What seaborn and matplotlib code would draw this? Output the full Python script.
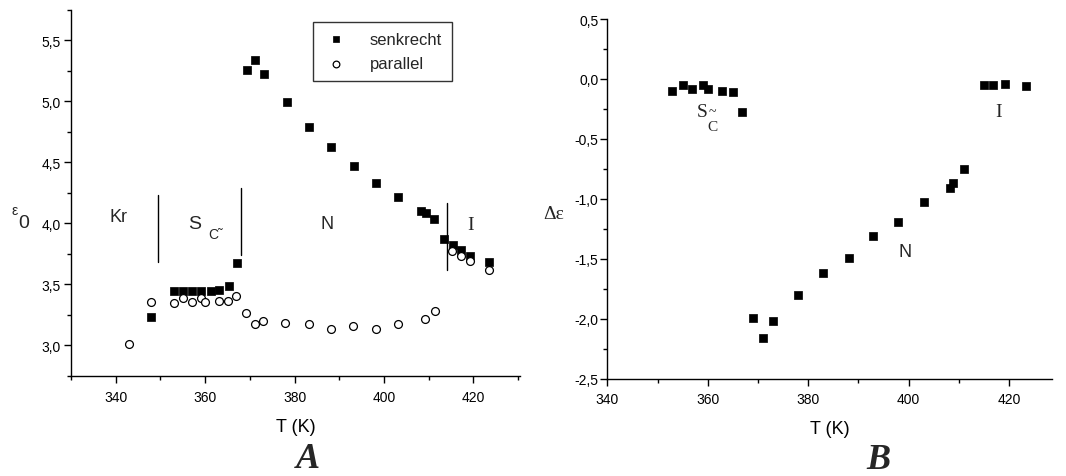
import matplotlib
matplotlib.use("Agg")
import matplotlib.pyplot as plt
import seaborn as sns
import pandas as pd
import numpy as np
from matplotlib.ticker import MultipleLocator, FuncFormatter

# ---- data (left panel A) ----
T_senk = [347.9, 353.0, 355.1, 357.1, 359.0, 361.2, 363.0, 365.3, 367.1,
          369.3, 371.2, 373.2, 378.3, 383.3, 388.1, 393.3, 398.2, 403.2,
          408.2, 409.3, 411.2, 413.3, 415.4, 417.2, 419.3, 423.4]
eps_senk = [3.23, 3.446, 3.443, 3.443, 3.443, 3.443, 3.457, 3.484, 3.672,
            5.254, 5.342, 5.227, 4.995, 4.79, 4.626, 4.467, 4.331, 4.213,
            4.10, 4.088, 4.033, 3.875, 3.82, 3.779, 3.733, 3.683]
T_par = [342.9, 347.9, 353.0, 355.1, 357.0, 359.1, 360.0, 363.0, 365.2,
         366.9, 369.2, 371.1, 373.0, 377.9, 383.3, 388.2, 393.1, 398.1,
         403.2, 409.1, 411.3, 415.2, 417.2, 419.3, 423.4]
eps_par = [3.011, 3.358, 3.35, 3.388, 3.356, 3.388, 3.358, 3.364, 3.366,
           3.407, 3.262, 3.178, 3.197, 3.184, 3.172, 3.134, 3.159, 3.137,
           3.178, 3.213, 3.282, 3.774, 3.733, 3.692, 3.618]

# ---- data (right panel B) ----
T_delta = [352.9, 355.1, 356.9, 359.1, 360.1, 362.9, 365.0, 366.8,
           369.1, 371.1, 372.9, 377.9, 383.0, 388.1, 392.9, 397.9,
           403.1, 408.3, 408.9, 411.1, 415.1, 416.9, 419.2, 423.4]
d_eps = [-0.102, -0.052, -0.083, -0.052, -0.083, -0.102, -0.111, -0.274,
         -1.99, -2.159, -2.02, -1.80, -1.618, -1.49, -1.31, -1.19,
         -1.028, -0.912, -0.87, -0.754, -0.052, -0.052, -0.042, -0.061]

series_names = ["senkrecht", "parallel"]
phase_T = [349.5, 368.0, 414.0]
phase_lo = [3.68, 3.74, 3.615]
phase_hi = [4.23, 4.29, 4.17]

sns.set_theme(style="ticks")
plt.rcParams['font.family'] = ['Liberation Sans', 'DejaVu Sans']
plt.rcParams['axes.edgecolor'] = 'black'
plt.rcParams['axes.linewidth'] = 1.0

fig = plt.figure(figsize=(10.66, 4.77), dpi=100)
axA = fig.add_axes([71/1066, 1-377/477, (520-71)/1066, (377-10.7)/477])
axB = fig.add_axes([607.3/1066, 1-379.7/477, (1051.7-607.3)/1066, (379.7-20)/477])

dfA = pd.concat([
    pd.DataFrame({"T": T_senk, "eps": eps_senk, "serie": series_names[0]}),
    pd.DataFrame({"T": T_par, "eps": eps_par, "serie": series_names[1]}),
])
sns.scatterplot(data=dfA[dfA.serie == "senkrecht"], x="T", y="eps", ax=axA,
                marker="s", s=28, color="black", edgecolor="black",
                linewidth=0.5, label="senkrecht", zorder=3)
sns.scatterplot(data=dfA[dfA.serie == "parallel"], x="T", y="eps", ax=axA,
                marker="o", s=32, facecolor="white", edgecolor="black",
                linewidth=0.9, label="parallel", zorder=4)

dfB = pd.DataFrame({"T": T_delta, "d": d_eps})
sns.scatterplot(data=dfB, x="T", y="d", ax=axB, marker="s", s=28,
                color="black", edgecolor="black", linewidth=0.5, zorder=3)

comma = FuncFormatter(lambda v, p: f"{v:.1f}".replace(".", ","))

for ax in (axA, axB):
    sns.despine(ax=ax)
    ax.xaxis.set_major_locator(MultipleLocator(20))
    ax.xaxis.set_minor_locator(MultipleLocator(10))
    ax.yaxis.set_major_locator(MultipleLocator(0.5))
    ax.yaxis.set_minor_locator(MultipleLocator(0.25))
    ax.yaxis.set_major_formatter(comma)
    ax.tick_params(which="major", direction="out", length=4.8, width=1,
                   labelsize=10, color="black", labelcolor="black")
    ax.tick_params(which="minor", direction="out", length=3, width=1,
                   color="black")
    ax.set_xlabel("T (K)", fontsize=13, color="black")
    ax.set_ylabel("")
    ax.grid(False)

axA.set_xlim(330, 430.4)
axA.set_ylim(2.75, 5.75)
axB.set_xlim(340, 428.5)
axB.set_ylim(-2.5, 0.5)
axA.tick_params(axis="y", pad=2.4)
axB.tick_params(axis="y", pad=1.5)
axA.tick_params(axis="x", pad=5.2)
axB.tick_params(axis="x", pad=5.0)
axA.xaxis.labelpad = 10
axB.xaxis.labelpad = 10

# phase boundaries
for t, lo, hi in zip(phase_T, phase_lo, phase_hi):
    axA.plot([t, t], [lo, hi], color="black", lw=1)

# phase labels
axA.text(340.6, 4.055, "Kr", fontsize=13, ha="center", va="center")
axA.text(357.7, 4.0, "S", fontsize=14, ha="center", va="center")
axA.text(361.8, 3.915, "C\u0303", fontsize=10, ha="center", va="center")
axA.text(387.2, 4.0, "N", fontsize=13, ha="center", va="center")
axA.text(419.3, 3.99, "I", fontsize=14, ha="center", va="center",
         family=["Liberation Serif"])

axB.text(358.9, -0.27, "S", fontsize=14, ha="center", va="center",
         family=["Liberation Serif"])
axB.text(361.0, -0.275, "~", fontsize=10, ha="center", va="center",
         family=["Liberation Serif"])
axB.text(361.0, -0.40, "C", fontsize=11, ha="center", va="center",
         family=["Liberation Serif"])
axB.text(418.0, -0.27, "I", fontsize=14, ha="center", va="center",
         family=["Liberation Serif"])
axB.text(399.3, -1.44, "N", fontsize=13, ha="center", va="center")

# legend
leg = axA.legend(loc="upper left", bbox_to_anchor=(0.539, 0.967),
                 borderaxespad=0.0,
                 frameon=True, fancybox=False, fontsize=12,
                 markerscale=0.85, handletextpad=1.2, borderpad=0.6,
                 labelspacing=0.55, handlelength=1.6)
leg.get_frame().set_edgecolor("black")
leg.get_frame().set_linewidth(1.0)

# y labels
fig.text(15/1066, 1-211/477, "\u03b5", fontsize=10, ha="center", va="center")
fig.text(23.5/1066, 1-224/477, "0", fontsize=14, ha="center", va="center")
fig.text(554/1066, 1-215/477, "\u0394\u03b5", fontsize=14, ha="center",
         va="center", family=["Liberation Serif"])

# panel letters
fig.text(308/1066, 1-460/477, "A", fontsize=26, ha="center", va="center",
         family=["Liberation Serif"], weight="bold", style="italic")
fig.text(878/1066, 1-461/477, "B", fontsize=26, ha="center", va="center",
         family=["Liberation Serif"], weight="bold", style="italic")

fig.savefig("out.png", dpi=100)
